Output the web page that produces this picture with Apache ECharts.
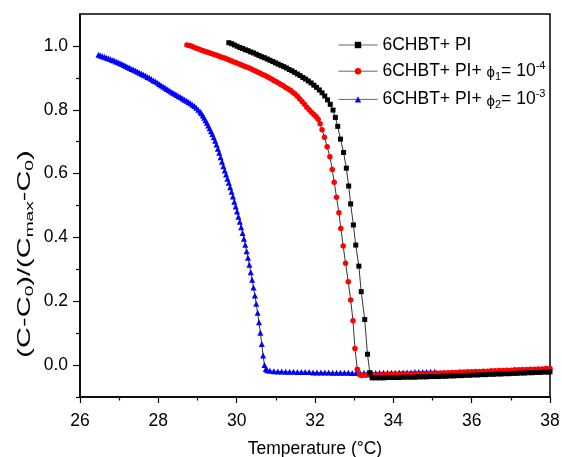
<!DOCTYPE html>
<html>
<head>
<meta charset="utf-8">
<script src="https://cdn.jsdelivr.net/npm/echarts@6/dist/echarts.min.js"></script>
<style>
html,body{margin:0;padding:0;background:#fff;}
#chart{width:562px;height:457px;}
</style>
</head>
<body>
<div id="chart"></div>
<script>
// ---------- data ----------
const seriesNames = ['6CHBT+ PI', '6CHBT+ PI+ phi1', '6CHBT+ PI+ phi2'];

const blackT = [29.80,29.87,29.94,30.01,30.08,30.15,30.22,30.29,30.36,30.43,30.50,30.57,30.64,30.71,30.78,30.85,30.92,30.99,31.06,31.13,31.20,31.27,31.34,31.41,31.48,31.55,31.62,31.69,31.76,31.83,31.90,31.97,32.04,32.11,32.18,32.25,32.32,32.39,
  32.46,32.52,32.58,32.65,32.73,32.80,32.86,32.91,32.98,33.04,33.12,33.18,33.27,33.34,33.40,33.46,
  33.55,33.65,33.75,33.85,33.95,34.05,34.15,34.25,34.35,34.45,34.55,34.65,34.75,34.85,34.95,35.05,35.15,35.25,35.35,35.45,35.55,35.65,35.75,35.85,35.95,36.05,36.15,36.25,36.35,36.45,36.55,36.65,36.75,36.85,36.95,37.05,37.15,37.25,37.35,37.45,37.55,37.65,37.75,37.85,37.95,38.00];
const blackV = [1.010,1.007,1.003,0.999,0.995,0.992,0.988,0.985,0.981,0.978,0.974,0.970,0.966,0.963,0.959,0.955,0.951,0.947,0.943,0.939,0.935,0.931,0.926,0.922,0.917,0.912,0.907,0.901,0.896,0.890,0.884,0.877,0.870,0.862,0.853,0.843,0.831,0.817,
  0.799,0.776,0.748,0.708,0.666,0.617,0.561,0.505,0.439,0.376,0.310,0.230,0.143,0.034,-0.024,-0.040,
  -0.040,-0.040,-0.040,-0.039,-0.039,-0.039,-0.039,-0.038,-0.038,-0.038,-0.038,-0.037,-0.037,-0.037,-0.036,-0.036,-0.036,-0.035,-0.035,-0.034,-0.034,-0.033,-0.033,-0.032,-0.032,-0.031,-0.031,-0.030,-0.030,-0.029,-0.029,-0.028,-0.028,-0.027,-0.027,-0.026,-0.026,-0.025,-0.025,-0.024,-0.024,-0.023,-0.023,-0.022,-0.022,-0.021];

const redT = [28.73,28.79,28.85,28.91,28.97,29.03,29.09,29.15,29.21,29.27,29.33,29.39,29.45,29.51,29.57,29.63,29.69,29.75,29.81,29.87,29.93,29.99,30.05,30.11,30.17,30.23,30.29,30.35,30.41,30.47,30.53,30.59,30.65,30.71,30.77,30.83,30.89,30.95,31.01,31.07,31.13,31.19,31.25,31.31,31.37,31.43,31.49,31.55,31.61,31.67,31.73,31.79,31.85,31.91,31.97,32.03,32.08,32.13,
  32.18,32.24,32.31,32.38,32.44,32.49,32.55,32.61,32.66,32.72,32.78,32.85,32.91,32.97,33.02,33.08,33.14,33.20,
  33.30,33.40,33.50,33.60,33.70,33.80,33.90,34.00,34.10,34.20,34.30,34.40,34.50,34.60,34.70,34.80,34.90,35.00,35.10,35.20,35.30,35.40,35.50,35.60,35.70,35.80,35.90,36.00,36.10,36.20,36.30,36.40,36.50,36.60,36.70,36.80,36.90,37.00,37.10,37.20,37.30,37.40,37.50,37.60,37.70,37.80,37.90,38.00];
const redV = [1.003,1.001,0.999,0.996,0.993,0.990,0.987,0.985,0.982,0.980,0.977,0.975,0.972,0.970,0.967,0.964,0.962,0.959,0.956,0.953,0.950,0.947,0.944,0.941,0.938,0.935,0.932,0.929,0.925,0.922,0.918,0.915,0.911,0.908,0.904,0.900,0.896,0.892,0.888,0.884,0.879,0.875,0.870,0.866,0.861,0.855,0.849,0.842,0.834,0.826,0.817,0.808,0.800,0.792,0.785,0.778,0.770,0.756,
  0.737,0.714,0.684,0.653,0.613,0.573,0.526,0.477,0.428,0.373,0.319,0.261,0.204,0.139,0.052,-0.013,-0.030,-0.033,
  -0.032,-0.032,-0.031,-0.031,-0.030,-0.030,-0.029,-0.029,-0.029,-0.028,-0.028,-0.028,-0.027,-0.027,-0.027,-0.026,-0.026,-0.026,-0.025,-0.025,-0.024,-0.024,-0.023,-0.023,-0.022,-0.022,-0.021,-0.021,-0.020,-0.020,-0.019,-0.019,-0.018,-0.018,-0.017,-0.017,-0.016,-0.016,-0.015,-0.015,-0.014,-0.014,-0.013,-0.013,-0.012,-0.012,-0.011,-0.011];

const blueT = [26.47,26.52,26.57,26.62,26.67,26.72,26.77,26.82,26.87,26.92,26.97,27.02,27.07,27.12,27.17,27.22,27.27,27.32,27.37,27.42,27.47,27.52,27.57,27.62,27.67,27.72,27.77,27.82,27.87,27.92,27.97,28.02,28.07,28.12,28.17,28.22,28.27,28.32,28.37,28.42,28.47,28.52,28.57,28.62,28.67,28.72,28.77,28.82,28.87,28.92,28.97,29.02,29.07,
  29.10,29.135,29.17,29.205,29.24,29.275,29.31,29.345,29.38,29.415,29.45,29.485,29.52,29.555,29.59,29.625,29.66,29.695,29.73,29.765,29.80,29.835,29.87,29.905,29.94,29.975,30.01,30.045,30.08,30.115,30.15,30.185,30.22,30.255,30.29,30.325,30.36,30.395,30.43,30.465,30.50,30.535,30.57,30.605,30.64,30.675,30.71,30.745,30.78,
  30.85,30.95,31.05,31.15,31.25,31.35,31.45,31.55,31.65,31.75,31.85,31.95,32.05,32.15,32.25,32.35,32.45,32.55,32.65,32.75,32.85,32.95,33.05,33.15,33.25,33.35,33.45,33.55,33.65,33.75,33.85,33.95,34.05,34.15,34.25,34.35,34.45,34.55,34.65,34.75,34.85,34.95,35.05];
const blueV = [0.972,0.970,0.968,0.966,0.963,0.961,0.959,0.956,0.954,0.951,0.949,0.946,0.943,0.940,0.937,0.934,0.931,0.928,0.925,0.922,0.919,0.916,0.913,0.910,0.907,0.903,0.900,0.896,0.892,0.889,0.885,0.881,0.877,0.873,0.869,0.865,0.861,0.857,0.853,0.850,0.846,0.842,0.839,0.835,0.831,0.828,0.824,0.820,0.816,0.812,0.806,0.800,0.794,
  0.789,0.782,0.775,0.767,0.759,0.751,0.742,0.733,0.724,0.714,0.703,0.691,0.678,0.665,0.651,0.637,0.623,0.610,0.597,0.584,0.571,0.557,0.543,0.528,0.512,0.497,0.481,0.465,0.449,0.432,0.414,0.396,0.377,0.357,0.336,0.314,0.291,0.267,0.243,0.218,0.192,0.164,0.134,0.101,0.066,0.030,0.000,-0.012,-0.016,
  -0.018,-0.019,-0.020,-0.020,-0.021,-0.021,-0.021,-0.022,-0.022,-0.022,-0.022,-0.023,-0.023,-0.023,-0.023,-0.023,-0.024,-0.024,-0.024,-0.024,-0.024,-0.025,-0.025,-0.025,-0.025,-0.025,-0.025,-0.025,-0.024,-0.024,-0.024,-0.024,-0.024,-0.023,-0.023,-0.023,-0.023,-0.022,-0.022,-0.022,-0.022,-0.021,-0.021];

const xTicks = [26, 28, 30, 32, 34, 36, 38];
const yMajorTicks = [0.0, 0.2, 0.4, 0.6, 0.8, 1.0];
const yMinorTicks = [-0.1, 0.1, 0.3, 0.5, 0.7, 0.9];

// ---------- chart ----------
const FONT = '"Liberation Sans", Arial, sans-serif';
const FS = 17.5;
const zip = (a, b) => a.map((t, i) => [t, b[i]]);

const legendRich = {
  a: {fontSize: FS, fontFamily: FONT, color: '#000', lineHeight: 22},
  phi: {fontSize: 15, fontFamily: FONT, color: '#000', lineHeight: 22, padding: [4, 0, 0, 0]},
  sub: {fontSize: 11, fontFamily: FONT, color: '#000', lineHeight: 11, verticalAlign: 'bottom'},
  sup: {fontSize: 11, fontFamily: FONT, color: '#000', lineHeight: 11, verticalAlign: 'top'}
};
const legendLabels = {
  '6CHBT+ PI': '{a|6CHBT+ PI}',
  '6CHBT+ PI+ phi1': '{a|6CHBT+ PI+ }{phi|ϕ}{sub|1}{a|= 10}{sup|-4}',
  '6CHBT+ PI+ phi2': '{a|6CHBT+ PI+ }{phi|ϕ}{sub|2}{a|= 10}{sup|-3}'
};

const chart = echarts.init(document.getElementById('chart'), null, {renderer: 'canvas'});
const lineStyle = {color: '#000', width: 0.8};

chart.setOption({
  animation: false,
  backgroundColor: '#fff',
  grid: {left: 80, right: 12, top: 14, bottom: 60, containLabel: false, outerBoundsMode: 'none',
    show: true, borderColor: '#000', borderWidth: 1.5, backgroundColor: 'transparent'},
  legend: {
    orient: 'vertical', left: 338, top: 36, padding: 0, itemWidth: 39, itemHeight: 8, itemGap: 6.2,
    selectedMode: false, data: seriesNames,
    lineStyle: {color: '#666', width: 1},
    formatter: n => legendLabels[n],
    textStyle: {rich: legendRich, fontSize: FS, fontFamily: FONT, color: '#000'}
  },
  xAxis: {
    type: 'value', min: 26, max: 38, interval: 2,
    name: 'Temperature (°C)', nameLocation: 'middle', nameGap: 43,
    nameTextStyle: {fontSize: FS, fontFamily: FONT, color: '#000'},
    axisLine: {onZero: false, lineStyle: {color: '#000', width: 1.5}},
    axisTick: {length: 6, lineStyle: {color: '#000', width: 1.2}, customValues: xTicks},
    minorTick: {show: true, splitNumber: 2, length: 3.5, lineStyle: {color: '#000', width: 1.2}},
    axisLabel: {fontSize: FS, fontFamily: FONT, color: '#000', margin: 15, customValues: xTicks},
    splitLine: {show: false}
  },
  yAxis: [{
    type: 'value', min: -0.1, max: 1.1,
    axisLine: {onZero: false, lineStyle: {color: '#000', width: 1.5}},
    axisTick: {length: 7, lineStyle: {color: '#000', width: 1.2}, customValues: yMajorTicks},
    axisLabel: {fontSize: FS, fontFamily: FONT, color: '#000', margin: 12, customValues: yMajorTicks,
      formatter: v => v.toFixed(1)},
    splitLine: {show: false}
  }, {
    type: 'value', min: -0.1, max: 1.1, position: 'left',
    axisLine: {show: false, onZero: false},
    axisTick: {show: true, length: 4, lineStyle: {color: '#000', width: 1.2}, customValues: yMinorTicks},
    axisLabel: {show: false},
    splitLine: {show: false}
  }],
  graphic: [{
    type: 'text', x: 25, y: 254, rotation: Math.PI / 2, scaleX: 1.66, scaleY: 1,
    style: {
      text: '{a|(C-C}{s|0}{a|)/(C}{s|max}{a|-C}{s|0}{a|)}',
      align: 'center', verticalAlign: 'middle',
      rich: {
        a: {fontSize: FS, fontFamily: FONT, fill: '#000', color: '#000', lineHeight: 22},
        s: {fontSize: 11.5, fontFamily: FONT, fill: '#000', color: '#000', lineHeight: 11, verticalAlign: 'bottom'}
      }
    }
  }],
  series: [{
    name: seriesNames[0], type: 'line', z: 4, data: zip(blackT, blackV),
    symbol: 'rect', symbolSize: 5, lineStyle: lineStyle, itemStyle: {color: '#000'},
    emphasis: {disabled: true}, silent: true
  }, {
    name: seriesNames[1], type: 'line', z: 3, data: zip(redT, redV),
    symbol: 'circle', symbolSize: 5.5, lineStyle: lineStyle, itemStyle: {color: '#ff0000'},
    emphasis: {disabled: true}, silent: true
  }, {
    name: seriesNames[2], type: 'line', z: 2, data: zip(blueT, blueV),
    symbol: 'triangle', symbolSize: 6, lineStyle: lineStyle, itemStyle: {color: '#0000ff'},
    emphasis: {disabled: true}, silent: true
  }]
});
</script>
</body>
</html>
